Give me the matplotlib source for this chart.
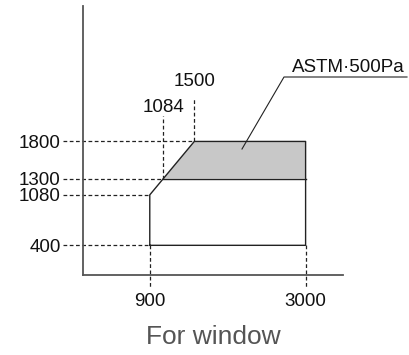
import matplotlib
matplotlib.use("Agg")
import matplotlib.pyplot as plt

plt.rcParams["font.family"] = ["Liberation Sans", "DejaVu Sans"]

# chart values
width_levels = [900, 1084, 1500, 3000]
height_levels = [400, 1080, 1300, 1800]
outline_x = [900, 900, 1500, 3000, 3000, 900]
outline_y = [400, 1080, 1800, 1800, 400, 400]
astm_x = [1084, 1500, 3000, 3000]
astm_y = [1300, 1800, 1800, 1300]
astm_label = "ASTM·500Pa"
xlabel = "For window"

W, H = 410, 355
k = 0.0742  # px per unit (equal scaling on both axes)
fig = plt.figure(figsize=(W / 100, H / 100), dpi=100)
ax = fig.add_axes([83 / W, (H - 275) / H, 260 / W, 269 / H])
ax.set_xlim(0, 260 / k)
ax.set_ylim(0, 269 / k)

dash = dict(color="#222222", lw=0.9, ls=(0, (3, 2)), clip_on=False)
solid = dict(color="#222222", lw=1.0)

# grey ASTM region and outline
ax.fill(astm_x, astm_y, color="#c8c8c8", lw=0, zorder=1)
ax.plot(outline_x, outline_y, **solid, zorder=3)
ax.plot([astm_x[0], astm_x[-1]], [astm_y[0], astm_y[-1]], **solid, zorder=3)

# guide lines to the left axis labels
left = -20 / k
ends = {400: 900, 1080: 900, 1300: 1084, 1800: 1500}
for yv in height_levels:
    ax.plot([left, ends[yv]], [yv, yv], **dash, zorder=2)

# guide lines down to x labels
for xv in (900, 3000):
    ax.plot([xv, xv], [400, -12 / k], **dash, zorder=2)

# guide lines up to 1084 / 1500 labels
tops = {1084: (116, 108), 1500: (99, 82)}
yofv = {1084: 1300, 1500: 1800}
for xv, (ytop, ylab) in tops.items():
    ax.plot([xv, xv], [yofv[xv], (275 - ytop) / k], **dash, zorder=2)
    ax.text(xv, (275 - ylab) / k, str(xv), ha="center", va="center",
            fontsize=13.5, color="#111111")

ax.set_yticks(height_levels)
ax.set_yticklabels([str(v) for v in height_levels])
ax.set_xticks([900, 3000])
ax.set_xticklabels(["900", "3000"])
ax.tick_params(axis="y", length=0, pad=16, labelsize=13.5, labelcolor="#111111")
ax.tick_params(axis="x", length=0, pad=13, labelsize=13.5, labelcolor="#111111")

# leader line + label
p0 = ((242 - 83) / k, (275 - 149) / k)
p1 = ((284 - 83) / k, (275 - 77) / k)
p2 = ((407 - 83) / k, (275 - 77) / k)
ax.plot([p0[0], p1[0], p2[0]], [p0[1], p1[1], p2[1]], color="#222222",
        lw=0.8, clip_on=False, zorder=4)
ax.text((348 - 83) / k, (275 - 67) / k, astm_label, ha="center", va="center",
        fontsize=13.5, color="#111111")

ax.set_xlabel(xlabel, fontsize=19, color="#555555", labelpad=11)

for s in ("top", "right"):
    ax.spines[s].set_visible(False)
for s in ("left", "bottom"):
    ax.spines[s].set_color("#555555")
    ax.spines[s].set_linewidth(1.3)

fig.savefig("out.png", dpi=100)
